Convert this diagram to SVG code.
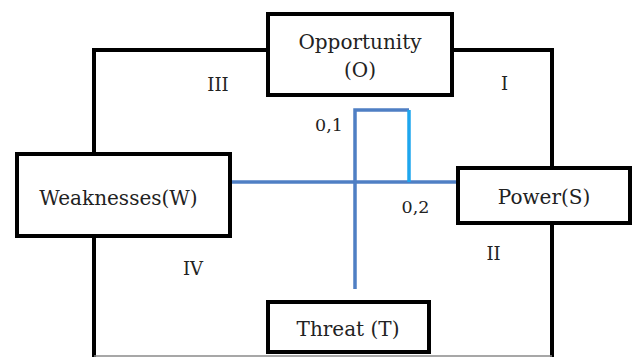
<svg xmlns="http://www.w3.org/2000/svg" width="633" height="357" viewBox="0 0 633 357">
<style>
.box{fill:#fff;stroke:#000;stroke-width:4}
.frame{fill:none;stroke:#000;stroke-width:4}
.lbl{font-family:"DejaVu Serif","Liberation Serif",serif;font-size:20px;fill:#222;text-anchor:middle}
.q{font-family:"DejaVu Serif","Liberation Serif",serif;font-size:18px;fill:#222;text-anchor:middle}
.v{font-family:"DejaVu Serif","Liberation Serif",serif;font-size:17.5px;fill:#222;text-anchor:middle}
.b{fill:none;stroke:#4f7fc4;stroke-width:3.5}
.c{fill:none;stroke:#1ea6ee;stroke-width:3.5}
</style>
<rect width="633" height="357" fill="#fff"/>
<g id="connectors">
<polyline class="frame" points="268,50 94,50 94,154"/>
<polyline class="frame" points="94,236 94,357"/>
<polyline class="frame" points="452,50 552,50 552,168"/>
<polyline class="frame" points="552,223 552,357"/>
<line x1="94" y1="356" x2="552" y2="356" stroke="#8a8a8a" stroke-width="1.5"/>
<line class="b" x1="230" y1="182" x2="458" y2="182"/>
<polyline class="b" points="355,289 355,110 409,110"/>
<line class="c" x1="409" y1="110" x2="409" y2="182"/>
</g>
<g id="node-opportunity">
<rect class="box" x="268" y="14" width="184" height="81"/>
<text class="lbl" x="360" y="49">Opportunity</text>
<text class="lbl" x="360" y="77">(O)</text>
</g>
<g id="node-weaknesses">
<rect class="box" x="17" y="154" width="213" height="82"/>
<text class="lbl" x="118.5" y="204.5">Weaknesses(W)</text>
</g>
<g id="node-power">
<rect class="box" x="458" y="168" width="172" height="55"/>
<text class="lbl" x="544" y="204">Power(S)</text>
</g>
<g id="node-threat">
<rect class="box" x="268" y="302" width="161" height="50"/>
<text class="lbl" x="348" y="336">Threat (T)</text>
</g>
<g id="labels">
<text class="q" x="218" y="91">III</text>
<text class="q" x="504.5" y="90">I</text>
<text class="q" x="193" y="275">IV</text>
<text class="q" x="493.5" y="260">II</text>
<text class="v" x="329" y="131">0,1</text>
<text class="v" x="415.5" y="213">0,2</text>
</g>
</svg>
